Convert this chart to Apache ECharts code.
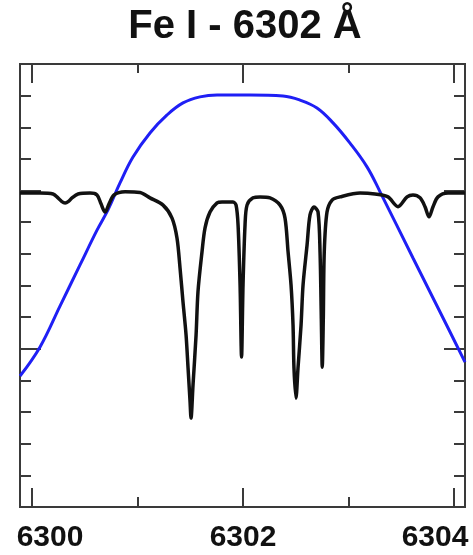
<!DOCTYPE html>
<html>
<head>
<meta charset="utf-8">
<script src="https://cdn.jsdelivr.net/npm/echarts@6/dist/echarts.min.js"></script>
<style>
  html, body { margin: 0; padding: 0; background: #fff; }
  #chart { width: 473px; height: 555px; }
</style>
</head>
<body>
<div id="chart"></div>
<script>
// wavelength range shown (Angstrom) and normalised intensity range
const xMin = 6299.886;
const xMax = 6304.104;
const yMin = 0;
const yMax = 1.4;

const xMajorTicks = [6300, 6302, 6304];
const xMinorTicks = [6301, 6303];
const yMajorTicks = [0, 0.5, 1.0];
const yMinorTicks = [0.1, 0.2, 0.3, 0.4, 0.6, 0.7, 0.8, 0.9, 1.1, 1.2, 1.3];

// solar spectrum (black)
const specWave = [
  6299.886, 6300.076, 6300.199, 6300.246, 6300.280, 6300.313, 6300.346, 6300.379, 6300.436,
  6300.550, 6300.616, 6300.654, 6300.692, 6300.730, 6300.777, 6300.882, 6301.024, 6301.118,
  6301.242, 6301.327, 6301.374, 6301.403, 6301.431, 6301.460, 6301.479, 6301.498, 6301.507,
  6301.526, 6301.555, 6301.573, 6301.611, 6301.640, 6301.687, 6301.754, 6301.801, 6301.905,
  6301.934, 6301.953, 6301.972, 6301.986, 6302.000, 6302.019, 6302.038, 6302.095, 6302.161,
  6302.256, 6302.351, 6302.398, 6302.427, 6302.455, 6302.474, 6302.483, 6302.502, 6302.521,
  6302.550, 6302.569, 6302.607, 6302.635, 6302.673, 6302.711, 6302.730, 6302.742, 6302.751,
  6302.761, 6302.770, 6302.796, 6302.844, 6302.919, 6303.109, 6303.251, 6303.374, 6303.469,
  6303.555, 6303.611, 6303.678, 6303.725, 6303.763, 6303.801, 6303.848, 6303.943, 6304.104
];
const specFlux = [
  0.992, 0.992, 0.989, 0.977, 0.966, 0.961, 0.966, 0.977, 0.989,
  0.992, 0.986, 0.958, 0.932, 0.958, 0.986, 0.996, 0.994, 0.977,
  0.954, 0.913, 0.850, 0.755, 0.648, 0.544, 0.439, 0.332, 0.281,
  0.386, 0.544, 0.680, 0.806, 0.882, 0.932, 0.961, 0.964, 0.964,
  0.954, 0.891, 0.702, 0.474, 0.702, 0.891, 0.954, 0.977, 0.980,
  0.977, 0.954, 0.913, 0.806, 0.702, 0.575, 0.439, 0.344, 0.439,
  0.575, 0.702, 0.828, 0.923, 0.948, 0.932, 0.806, 0.597, 0.442,
  0.597, 0.806, 0.932, 0.970, 0.980, 0.992, 0.989, 0.980, 0.949,
  0.980, 0.986, 0.977, 0.949, 0.917, 0.949, 0.980, 0.992, 0.992
];

// filter transmission profile (blue)
const filterWave = [
  6299.886, 6300.076, 6300.265, 6300.455, 6300.616, 6300.720, 6300.834, 6300.957, 6301.118,
  6301.280, 6301.431, 6301.592, 6301.754, 6302.066, 6302.379, 6302.540, 6302.701, 6302.853,
  6303.014, 6303.175, 6303.299, 6303.611, 6303.934, 6304.104
];
const filterTrans = [
  0.414, 0.506, 0.635, 0.765, 0.875, 0.939, 1.024, 1.106, 1.182,
  1.239, 1.277, 1.296, 1.302, 1.302, 1.299, 1.286, 1.261, 1.214,
  1.150, 1.075, 0.996, 0.787, 0.572, 0.458
];

const frameColor = '#3a3a3a';
const font = 'Liberation Sans, Arial, Helvetica, sans-serif';

const chart = echarts.init(document.getElementById('chart'));

const xAxisBase = (position, ticks, len, withLabel) => ({
  type: 'value',
  position: position,
  min: xMin,
  max: xMax,
  axisLine: { show: true, onZero: false, lineStyle: { color: frameColor, width: 2 } },
  axisTick: { show: true, inside: true, length: len, customValues: ticks, lineStyle: { color: frameColor, width: 2 } },
  splitLine: { show: false },
  axisLabel: withLabel ? {
    show: true,
    customValues: ticks,
    margin: 16,
    formatter: (v) => {
      if (v === 6300) return '{l|' + v + '}';
      if (v === 6304) return '{r|' + v + '}';
      return '{c|' + v + '}';
    },
    rich: {
      l: { fontSize: 30, fontWeight: 'bold', fontFamily: font, color: '#111', padding: [0, 0, 0, 36] },
      r: { fontSize: 30, fontWeight: 'bold', fontFamily: font, color: '#111', padding: [0, 38, 0, 0] },
      c: { fontSize: 30, fontWeight: 'bold', fontFamily: font, color: '#111' }
    }
  } : { show: false }
});

const yAxisBase = (position, ticks, len) => ({
  type: 'value',
  position: position,
  min: yMin,
  max: yMax,
  axisLine: { show: true, lineStyle: { color: frameColor, width: 2 } },
  axisTick: { show: true, inside: true, length: len, customValues: ticks, lineStyle: { color: frameColor, width: 2 } },
  splitLine: { show: false },
  axisLabel: { show: false }
});

const option = {
  backgroundColor: '#fff',
  animation: false,
  title: {
    text: 'Fe I - 6302 Å',
    left: 240,
    top: 2,
    textAlign: 'center',
    textStyle: { fontSize: 40, fontWeight: 'bold', fontFamily: font, color: '#111' }
  },
  grid: { left: 20, right: 8, top: 64, bottom: 48 },
  xAxis: [
    xAxisBase('bottom', xMajorTicks, 19, true),
    xAxisBase('bottom', xMinorTicks, 10, false),
    xAxisBase('top', xMajorTicks, 19, false),
    xAxisBase('top', xMinorTicks, 9, false)
  ],
  yAxis: [
    yAxisBase('left', yMajorTicks, 21),
    yAxisBase('left', yMinorTicks, 11),
    yAxisBase('right', yMajorTicks, 21),
    yAxisBase('right', yMinorTicks, 11)
  ],
  series: [
    {
      name: 'filter',
      type: 'line',
      xAxisIndex: 0,
      yAxisIndex: 0,
      data: filterWave.map((w, i) => [w, filterTrans[i]]),
      showSymbol: false,
      smooth: 0.4,
      lineStyle: { color: '#1f1ff5', width: 3 },
      z: 3
    },
    {
      name: 'spectrum',
      type: 'line',
      xAxisIndex: 0,
      yAxisIndex: 0,
      data: specWave.map((w, i) => [w, specFlux[i]]),
      showSymbol: false,
      smooth: 0.3,
      lineStyle: { color: '#111', width: 3.5 },
      z: 4
    }
  ]
};

chart.setOption(option);
</script>
</body>
</html>
